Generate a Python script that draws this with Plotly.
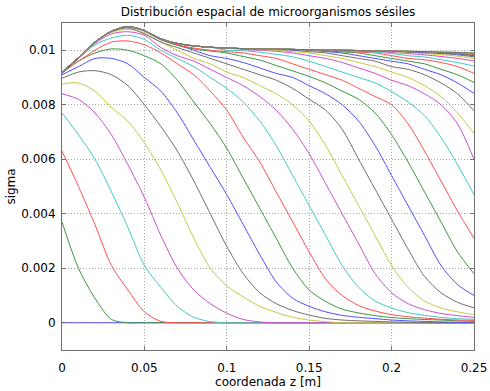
import plotly.graph_objects as go

z = [0.00, 0.01, 0.02, 0.03, 0.04, 0.05, 0.06, 0.07, 0.08, 0.09, 0.10, 0.11, 0.12,
     0.13, 0.14, 0.15, 0.16, 0.17, 0.18, 0.19, 0.20, 0.21, 0.22, 0.23, 0.24, 0.25]

# converged (top) profile
S = [.00920, .00973, .01030, .01070, .01087, .01072, .01042, .01025, .01016, .01011, .01008, .01006, .01005,
     .01004, .01003, .01002, .01001, .01000, .00999, .00998, .00997, .00996, .00995, .00993, .00992, .00990]

c0 = [0.0] * 26
c1 = [.0037, .0020, .0009, .00012] + [0.0] * 22
c2 = [.0063, .0050, .0036, .0021, .0012, .0004, .00005] + [0.0] * 19
c3 = [.0077, .0069, .0060, .0048, .0035, .0021, .0013, .0006, .0002, .00004] + [0.0] * 16
c4 = [.0084, .0082, .0077, .0069, .0058, .0046, .0032, .0020, .0012, .0007, .00035, .00012, .00003] + [0.0] * 13
c5 = [.00876, .0088, .0085, .0079, .0074, .0066, .0056, .0044, .0031, .0020, .00135, .00095, .0006,
      .00038, .0002, .0001, .00004] + [0.0] * 9
c6 = [.00897, .0092, .00925, .0091, .0087, .0080, .0072, .0063, .0052, .0040, .0028, .0018, .0011,
      .0007, .00045, .00028, .00016, .0001, .00007, .00005, .00003, .00002, 0.0, 0.0, 0.0, 0.0]
c7 = [.0091, .0094, .0097, .0097, .0095, .0090, .0085, .0077, .0067, .0057, .0047, .0036, .0025,
      .0015, .0009, .0006, .0004, .00027, .0002, .00015, .0001, .00007, .00005, .00003, .00002, .00001]
c8 = [.00915, .0096, .0099, .01005, .0100, .0098, .0095, .0089, .0081, .0073, .0064, .0053, .0042,
      .0031, .0020, .0012, .00078, .0005, .00036, .00026, .00019, .00015, .00012, .0001, .00007, .00005]
c9 = [.0092, .0096, .0100, .0103, .01034, .0102, .0099, .0095, .0091, .0085, .0078, .0068, .0059,
      .0048, .0037, .0026, .0016, .0010, .00063, .00043, .0003, .00022, .00017, .00013, .0001, .00009]
c10 = [.0092, .0097, .0102, .01045, .01055, .0104, .0100, .0097, .0094, .0090, .0086, .0081, .0074,
       .0065, .0054, .0043, .0032, .0021, .0013, .0008, .00054, .00037, .00027, .0002, .00015, .00013]
c11 = [.0092, .0097, .01025, .0106, .01068, .01055, .0101, .0098, .0096, .0093, .0090, .0087, .0083,
       .0078, .0071, .0062, .0051, .0040, .0029, .0018, .0011, .0007, .00048, .00034, .00026, .0002]
c12 = [.0092, .0097, .0103, .01065, .01077, .01063, .0103, .0100, .0097, .0095, .0092, .0090, .0087,
       .0084, .0080, .0074, .0065, .0054, .0043, .0032, .0021, .0013, .0008, .00054, .0004, .0003]
c13 = [.0092, .0097, .0103, .01068, .01082, .0106, .0103, .0101, .0099, .0097, .0095, .0093, .0091,
       .0089, .0086, .0082, .0078, .0071, .0060, .0049, .0038, .0027, .0017, .0011, .00075, .00055]
c14 = [.0092, .0097, .0103, .0107, .01085, .0107, .01038, .0102, .0100, .0098, .0097, .00955, .00935,
       .00915, .0090, .0087, .0084, .0080, .0074, .0065, .0054, .0043, .0032, .0021, .0014, .0010]
c15 = [.0092, .0097, .0103, .0107, .01087, .01071, .0104, .01018, .01005, .00997, .0099, .00977, .00964,
       .00944, .00924, .00904, .0088, .0085, .0082, .0077, .0069, .0059, .0048, .0037, .0026, .0018]
c16 = [.0092, .00972, .0103, .0107, .01087, .01072, .01041, .0102, .01008, .0100, .00995, .0099, .0098,
       .0097, .0095, .0093, .0091, .0089, .0086, .0083, .0080, .0073, .0063, .0052, .0041, .0031]

# later curves: they follow the converged profile S on the left, then these read values (to z = 0.25)
tail17 = [.0100, .00998, .00993, .00985, .00976, .0096, .0094, .0092, .0090, .0088, .00848, .0081, .0076,
          .0068, .0058, .0047]
tail18 = [.01003, .0100, .00996, .0099, .0098, .0097, .00955, .00935, .00915, .0089, .0087, .0084, .0080,
          .0073, .0060]
tail19 = [.01002, .0100, .00995, .0099, .0098, .0097, .00955, .0094, .0092, .0090, .0087, .0083, .0077, .00695]
tail20 = [.01003, .0100, .00995, .0099, .0098, .0097, .0096, .0094, .0093, .0091, .0088, .0084, .00778]
tail21 = [.01002, .0100, .00995, .0099, .0098, .0097, .0096, .0095, .0093, .0091, .0088, .00842]
tail22 = [.01001, .00998, .00994, .0099, .0098, .0097, .0096, .0095, .0093, .0091, .00882]
tail23 = [.0100, .00997, .00993, .0099, .0098, .0097, .00965, .00955, .0094, .00915]
tail24 = [.00999, .00996, .00993, .00988, .0098, .00975, .00965, .00955, .00942]
tail25 = [.00998, .00996, .00992, .00988, .00983, .00977, .0097, .00961]
tail26 = [.00997, .00995, .00992, .00988, .00984, .00978, .0097]
tail27 = [.00996, .00994, .00991, .00988, .00983, .00976]
tail28 = [.00995, .00993, .0099, .00986, .0098]
tail29 = [.00994, .00991, .00988, .00983]
tail30 = [.00992, .00989, .00985]
tail31 = [.0099, .00987]
tail32 = [.00988]
tail33 = [.00989]
tail34 = [.00990]

tails = [tail17, tail18, tail19, tail20, tail21, tail22, tail23, tail24, tail25, tail26,
         tail27, tail28, tail29, tail30, tail31, tail32, tail33, tail34]

curves = [c0, c1, c2, c3, c4, c5, c6, c7, c8, c9, c10, c11, c12, c13, c14, c15, c16]
for t in tails:
    curves.append(S[:len(z) - len(t)] + t)

colors = ['#4d4dff', '#3c963c', '#ff4d4d', '#40c8c8', '#cc4dcc', '#c8c840', '#6e6e6e']

fig = go.Figure()
for k, c in enumerate(curves):
    fig.add_trace(go.Scatter(x=z, y=c, mode='lines',
                             line=dict(color=colors[k % 7], width=1, shape='spline', smoothing=0.8),
                             showlegend=False, hoverinfo='skip'))

font = dict(family='DejaVu Sans', size=12, color='#000000')
axcommon = dict(showgrid=True, gridcolor='#a8a8a8', griddash='1px,2px', gridwidth=1,
                showline=True, linecolor='#707070', linewidth=1, mirror='allticks',
                ticks='inside', ticklen=4, tickcolor='#707070', zeroline=False,
                tickfont=font, automargin=False)

fig.update_layout(
    width=490, height=391,
    margin=dict(l=62, r=16, t=23, b=41),
    paper_bgcolor='white', plot_bgcolor='white',
    font=font,
    title=dict(text='Distribución espacial de microorganismos sésiles', x=0.5, xref='paper',
               xanchor='center', y=1 - 12 / 391, yref='container', yanchor='middle',
               font=dict(family='DejaVu Sans', size=12, color='#000000')),
    xaxis=dict(range=[0, 0.25], tickvals=[0, 0.05, 0.1, 0.15, 0.2, 0.25],
               ticktext=['0', '0.05', '0.1', '0.15', '0.2', '0.25'], ticklabelstandoff=7,
               title=dict(text='coordenada z [m]', font=font, standoff=3), **axcommon),
    yaxis=dict(range=[-0.001, 0.011], tickvals=[0, 0.002, 0.004, 0.006, 0.008, 0.01],
               ticktext=['0', '0.002', '0.004', '0.006', '0.008', '0.01'], ticklabelstandoff=3,
               title=dict(text='sigma', font=font, standoff=3), **axcommon),
)

fig.write_html('out.html')
